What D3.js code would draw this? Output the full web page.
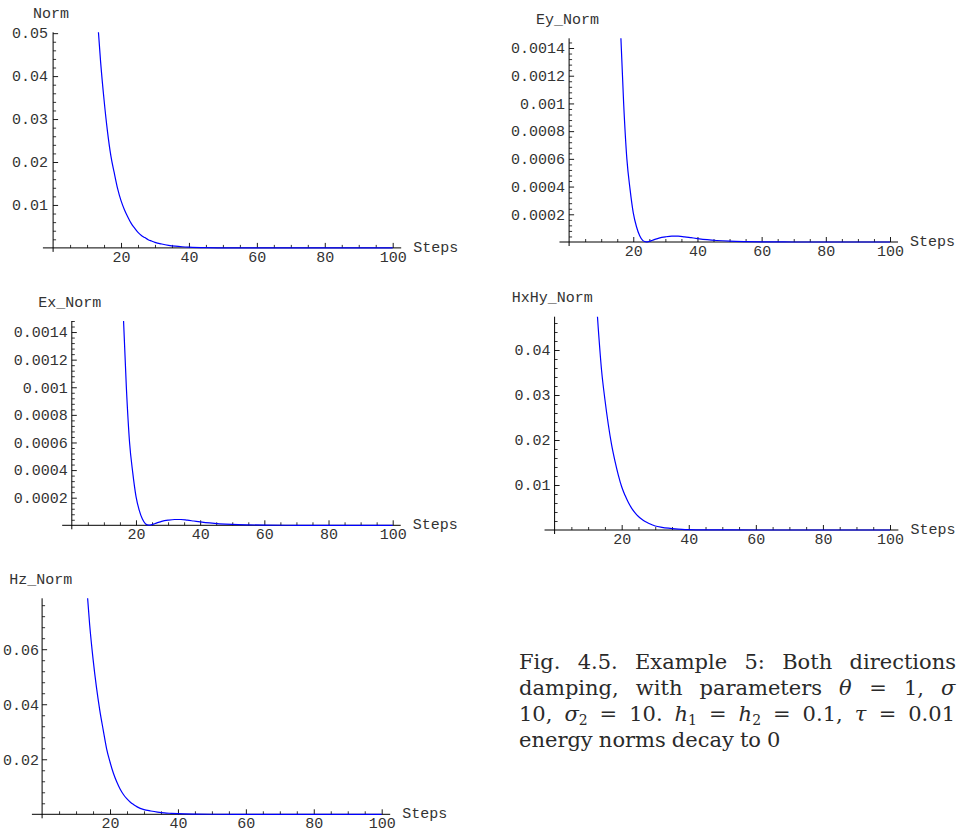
<!DOCTYPE html>
<html><head><meta charset="utf-8">
<script src="https://cdn.jsdelivr.net/npm/d3@7"></script>
<style>body{margin:0;background:#fff}svg{display:block}</style>
</head><body>
<svg id="c" width="959" height="832"></svg>
<script>
// ---------------- data ----------------
const xTickValues = [20, 40, 60, 80, 100];
const xTickLabels = ["20", "40", "60", "80", "100"];

const normSteps  = [13,14,15,16,17,18,19,20,21,22,23,24,25,26,27,28,29,30,32,34,36,38,40,45,50,55,60,70,80,90,100];
const normValues = [0.0540,0.0432,0.0345,0.0272,0.0215,0.0175,0.0138,0.0110,0.0089,0.0072,0.0057,0.0046,0.0036,0.0029,0.0024,0.0019,0.0016,0.0013,0.0009,0.0006,0.0004,0.00027,0.00018,0.00006,0.00002,0.00001,0.000003,0,0,0,0];
const normYTicks  = [0.01, 0.02, 0.03, 0.04, 0.05];
const normYLabels = ["0.01", "0.02", "0.03", "0.04", "0.05"];

const eySteps  = [16,17,18,19,20,21,22,23,24,25,26,27,28,30,32,34,36,38,40,43,46,50,55,60,70,80,90,100];
const eyValues = [0.00155,0.00100,0.00060,0.00038,0.00021,0.00011,0.000045,0.000010,0.000001,0.000005,0.000013,0.000021,0.000028,0.000037,0.000042,0.000042,0.000037,0.000031,0.000025,0.000017,0.000011,0.000006,0.000003,0.0000015,0,0,0,0];
const eyYTicks  = [0.0002, 0.0004, 0.0006, 0.0008, 0.001, 0.0012, 0.0014];
const eyYLabels = ["0.0002", "0.0004", "0.0006", "0.0008", "0.001", "0.0012", "0.0014"];

const exSteps  = [16,17,18,19,20,21,22,23,24,25,26,27,28,30,32,34,36,38,40,43,46,50,55,60,70,80,90,100];
const exValues = [0.00155,0.00100,0.00060,0.00038,0.00021,0.00011,0.000045,0.000010,0.000001,0.000005,0.000013,0.000021,0.000028,0.000037,0.000042,0.000042,0.000037,0.000031,0.000025,0.000017,0.000011,0.000006,0.000003,0.0000015,0,0,0,0];
const exYTicks  = [0.0002, 0.0004, 0.0006, 0.0008, 0.001, 0.0012, 0.0014];
const exYLabels = ["0.0002", "0.0004", "0.0006", "0.0008", "0.001", "0.0012", "0.0014"];

const hxhySteps  = [12,13,14,15,16,17,18,19,20,21,22,23,24,25,26,27,28,30,32,34,36,38,40,45,50,60,70,80,90,100];
const hxhyValues = [0.0560,0.0450,0.0355,0.0290,0.0235,0.0189,0.0153,0.0122,0.0096,0.0077,0.0061,0.0048,0.0038,0.0030,0.0024,0.0019,0.0015,0.0009,0.0006,0.0004,0.00025,0.00016,0.0001,0.00003,0.00001,0.000002,0,0,0,0];
const hxhyYTicks  = [0.01, 0.02, 0.03, 0.04];
const hxhyYLabels = ["0.01", "0.02", "0.03", "0.04"];

const hzSteps  = [13,14,15,16,17,18,19,20,21,22,23,24,25,26,27,28,30,32,34,36,38,40,45,50,60,70,80,90,100];
const hzValues = [0.0850,0.0690,0.0565,0.0462,0.0377,0.0306,0.0238,0.0190,0.0149,0.0117,0.0091,0.0071,0.0056,0.0044,0.0035,0.0027,0.0017,0.0012,0.0008,0.0005,0.00035,0.00022,0.00007,0.00002,0.000003,0,0,0,0];
const hzYTicks  = [0.02, 0.04, 0.06];
const hzYLabels = ["0.02", "0.04", "0.06"];

// caption tokens: [text, italic?, subscript]
const captionLines = [
  [["Fig."], ["4.5."], ["Example"], ["5:"], ["Both"], ["directions"]],
  [["damping,"], ["with"], ["parameters"], ["θ", "i"], ["="], ["1,"], ["σ", "i"]],
  [["10,"], ["σ", "i", "2"], ["="], ["10."], ["h", "i", "1"], ["="], ["h", "i", "2"], ["="], ["0.1,"], ["τ", "i"], ["="], ["0.01"]],
  [["energy"], ["norms"], ["decay"], ["to"], ["0"]]
];

// ---------------- layout ----------------
const panels = [
  {title:"Norm",      steps:normSteps, values:normValues, yTicks:normYTicks, yLabels:normYLabels, yMax:0.0502,  minor:0.002,
   xr:[53.1,392.7], yr:[247.9,32.3], tx:33,    ty:18,    gap:5},
  {title:"Ey_Norm",   steps:eySteps,   values:eyValues,   yTicks:eyYTicks,   yLabels:eyYLabels,   yMax:0.00147, minor:0.00004,
   xr:[569.1,890],  yr:[242,38.3],   tx:536,   ty:24,    gap:4},
  {title:"Ex_Norm",   steps:exSteps,   values:exValues,   yTicks:exYTicks,   yLabels:exYLabels,   yMax:0.00148, minor:0.00004,
   xr:[71.8,392.7], yr:[525.3,321],  tx:38.3,  ty:306.7, gap:4},
  {title:"HxHy_Norm", steps:hxhySteps, values:hxhyValues, yTicks:hxhyYTicks, yLabels:hxhyYLabels, yMax:0.0474,  minor:0.002,
   xr:[554.6,890],  yr:[530,316.7],  tx:511.7, ty:302.3, gap:4},
  {title:"Hz_Norm",   steps:hzSteps,   values:hzValues,   yTicks:hzYTicks,   yLabels:hzYLabels,   yMax:0.0785,  minor:0.004,
   xr:[42.1,381.7], yr:[814.3,598.3],tx:9.3,   ty:584,   gap:3}
];

const svg = d3.select("#c");
const mono = "'Liberation Mono', 'Courier New', monospace";
const txtCol = "#333";

panels.forEach((p, i) => {
  const x = d3.scaleLinear().domain([0, 100]).range(p.xr);
  const y = d3.scaleLinear().domain([0, p.yMax]).range(p.yr);
  const g = svg.append("g");

  const cid = "clip" + i;
  svg.append("clipPath").attr("id", cid).append("rect")
    .attr("x", x(-3)).attr("y", y(p.yMax)).attr("width", x(103) - x(-3)).attr("height", y(0) - y(p.yMax) + 3);

  const xMinor = d3.range(5, 101, 5).filter(v => v % 20 !== 0);
  g.append("g").attr("transform", `translate(0,${y(0)})`)
    .call(d3.axisBottom(x).tickValues(xMinor).tickSize(-3).tickFormat(""))
    .call(a => a.select(".domain").remove())
    .selectAll("line").attr("stroke", "#000").attr("stroke-width", 0.8);
  g.append("g").attr("transform", `translate(0,${y(0)})`)
    .call(d3.axisBottom(x).tickValues(xTickValues).tickSize(-5).tickPadding(3).tickFormat((d, k) => xTickLabels[k]))
    .call(a => a.select(".domain").remove())
    .call(a => a.selectAll("line").attr("stroke", "#000").attr("stroke-width", 0.9))
    .call(a => a.selectAll("text").attr("font-family", mono).attr("font-size", 15).attr("fill", txtCol));

  const nMinor = Math.floor(p.yMax / p.minor + 1e-6);
  const yMinor = d3.range(1, nMinor + 1).map(k => k * p.minor)
    .filter(v => !p.yTicks.some(t => Math.abs(t - v) < p.minor * 0.1));
  g.append("g").attr("transform", `translate(${x(0)},0)`)
    .call(d3.axisLeft(y).tickValues(yMinor).tickSize(-3).tickFormat(""))
    .call(a => a.select(".domain").remove())
    .selectAll("line").attr("stroke", "#000").attr("stroke-width", 0.8);
  g.append("g").attr("transform", `translate(${x(0)},0)`)
    .call(d3.axisLeft(y).tickValues(p.yTicks).tickSize(-5).tickPadding(p.gap).tickFormat((d, k) => p.yLabels[k]))
    .call(a => a.select(".domain").remove())
    .call(a => a.selectAll("line").attr("stroke", "#000").attr("stroke-width", 0.9))
    .call(a => a.selectAll("text").attr("font-family", mono).attr("font-size", 15).attr("fill", txtCol));

  g.append("line").attr("x1", x(-3)).attr("x2", x(102.5)).attr("y1", y(0)).attr("y2", y(0))
    .attr("stroke", "#000").attr("stroke-width", 1);
  g.append("line").attr("x1", x(0)).attr("x2", x(0)).attr("y1", y(0) + 4).attr("y2", y(p.yMax))
    .attr("stroke", "#000").attr("stroke-width", 1);

  const pts = p.steps.map((s, k) => [s, p.values[k]]);
  g.append("path").datum(pts)
    .attr("clip-path", `url(#${cid})`)
    .attr("fill", "none").attr("stroke", "#0000ff").attr("stroke-width", 1.2)
    .attr("d", d3.line().x(d => x(d[0])).y(d => y(d[1])).curve(d3.curveMonotoneX));

  g.append("text").attr("x", p.tx).attr("y", p.ty).text(p.title)
    .attr("font-family", mono).attr("font-size", 15).attr("fill", txtCol);
  g.append("text").attr("x", x(102.5) + 12).attr("y", y(0) + 4).text("Steps")
    .attr("font-family", mono).attr("font-size", 15).attr("fill", txtCol);
});

// caption (justified lines ending at the right edge as in the source)
const capX = 519, capY0 = 669, capDY = 26;
const lineRight = [956, 956, 955, null];
const serif = "'DejaVu Serif', 'Liberation Serif', serif";
captionLines.forEach((line, li) => {
  const nodes = line.map(seg => {
    const t = svg.append("text").attr("y", capY0 + li * capDY)
      .attr("font-family", serif).attr("font-size", 21).attr("fill", "#2a2a2a");
    t.append("tspan").text(seg[0]).attr("font-style", seg[1] === "i" ? "italic" : "normal");
    if (seg[2]) t.append("tspan").text(seg[2]).attr("font-size", 14).attr("dy", 4);
    return t;
  });
  const widths = nodes.map(n => n.node().getBBox().width);
  const total = d3.sum(widths);
  const gap = lineRight[li] ? (lineRight[li] - capX - total) / (nodes.length - 1) : 6;
  let cx = capX;
  nodes.forEach((n, k) => { n.attr("x", cx); cx += widths[k] + gap; });
});
</script>
</body></html>
